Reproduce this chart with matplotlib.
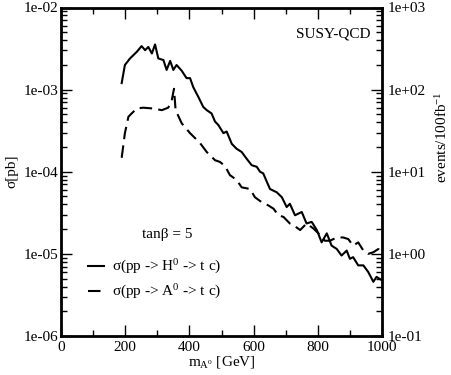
import numpy as np
import matplotlib
matplotlib.use('Agg')
from matplotlib import pyplot as plt, rcParams
from matplotlib.ticker import MultipleLocator, LogLocator, FixedLocator

rcParams['font.family'] = ['Liberation Serif', 'DejaVu Serif']
rcParams['mathtext.fontset'] = 'custom'
rcParams['mathtext.rm'] = 'Liberation Serif'
rcParams['mathtext.it'] = 'Liberation Serif'

# sigma(pp -> H0 -> t c), log10 values
mH = [189, 199, 215, 236, 251, 262, 272, 283, 293, 303, 319, 329, 340, 350, 360, 376,
      391, 402, 412, 428, 443, 454, 469, 480, 490, 506, 516, 532, 547, 563, 578, 594,
      610, 620, 630, 641, 651, 672, 688, 703, 713, 729, 750, 765, 781, 797, 812, 828,
      843, 859, 874, 890, 900, 910, 926, 942, 957, 973, 983, 999]
logH = [-2.92, -2.70, -2.62, -2.54, -2.47, -2.52, -2.48, -2.56, -2.45, -2.62, -2.64, -2.76,
        -2.65, -2.76, -2.70, -2.77, -2.86, -2.86, -2.97, -3.09, -3.21, -3.25, -3.29, -3.39,
        -3.43, -3.53, -3.51, -3.66, -3.72, -3.76, -3.84, -3.92, -3.94, -4.00, -4.02, -4.12,
        -4.21, -4.25, -4.31, -4.43, -4.39, -4.53, -4.49, -4.63, -4.61, -4.71, -4.86, -4.75,
        -4.90, -4.94, -5.02, -4.96, -5.06, -5.04, -5.14, -5.14, -5.22, -5.34, -5.28, -5.32]

# sigma(pp -> A0 -> t c)
mA = [189, 199, 210, 220, 236, 256, 288, 314, 334, 345, 352, 357, 376, 402, 433, 454,
      480, 495, 511, 526, 547, 563, 589, 604, 625, 646, 662, 677, 693, 713, 724, 745,
      765, 786, 802, 822, 838, 859, 879, 895, 910, 926, 942, 957, 973, 989, 996]
logA = [-3.83, -3.53, -3.33, -3.29, -3.23, -3.22, -3.23, -3.25, -3.22, -3.13, -2.99, -3.25,
        -3.41, -3.53, -3.65, -3.76, -3.86, -3.88, -3.93, -4.04, -4.10, -4.19, -4.21, -4.31,
        -4.37, -4.41, -4.45, -4.53, -4.55, -4.63, -4.65, -4.71, -4.63, -4.69, -4.75, -4.84,
        -4.84, -4.80, -4.80, -4.82, -4.90, -4.86, -4.96, -5.00, -4.98, -4.94, -4.88]

fs = 11

fig = plt.figure(figsize=(4.51, 3.75), dpi=100)
ax = fig.add_axes([0.1353, 0.104, 0.7117, 0.876])

ax.plot(mH, 10 ** np.array(logH), color='black', lw=1.5, label=r'σ(pp -> H$^0$ -> t c)')
ax.plot(mA, 10 ** np.array(logA), color='black', lw=1.5, dashes=(6, 3),
        label=r'σ(pp -> A$^0$ -> t c)')

ax.set_yscale('log')
ax.set_xlim(0, 1000)
ax.set_ylim(1e-6, 1e-2)
ax.xaxis.set_major_locator(MultipleLocator(200))
ax.xaxis.set_minor_locator(MultipleLocator(100))
ax.yaxis.set_major_locator(FixedLocator([1e-6, 1e-5, 1e-4, 1e-3, 1e-2]))
ax.yaxis.set_minor_locator(LogLocator(base=10, subs=np.arange(2, 10)))
ax.yaxis.set_minor_formatter(plt.NullFormatter())
ax.set_yticklabels(['1e-06', '1e-05', '1e-04', '1e-03', '1e-02'])
ax.tick_params(which='both', direction='in', top=True, labelsize=fs)
ax.tick_params(which='major', length=8, width=1)
ax.tick_params(which='minor', length=4, width=1)
ax.tick_params(axis='y', which='both', right=False, pad=2)
for s in ax.spines.values():
    s.set_linewidth(2)

ax.set_ylabel('σ[pb]', fontsize=fs, labelpad=4)
ax.set_xlabel(r'm$_{\mathregular{A^0}}$ [GeV]', fontsize=fs, labelpad=0)

ax2 = ax.twinx()
ax2.set_yscale('log')
ax2.set_ylim(1e-1, 1e3)
ax2.yaxis.set_major_locator(FixedLocator([1e-1, 1e0, 1e1, 1e2, 1e3]))
ax2.yaxis.set_minor_locator(LogLocator(base=10, subs=np.arange(2, 10)))
ax2.yaxis.set_minor_formatter(plt.NullFormatter())
ax2.set_yticklabels(['1e-01', '1e+00', '1e+01', '1e+02', '1e+03'])
ax2.tick_params(which='both', direction='in', labelsize=fs, pad=4)
ax2.tick_params(which='major', length=8, width=1)
ax2.tick_params(which='minor', length=4, width=1)

# right-hand label sits a bit above the middle, as in the original
fig.text(442 / 451, 1 - 137 / 375, r'events/100fb$^{-1}$', rotation=90,
         ha='center', va='center', fontsize=fs)

ax.text(0.965, 0.92, 'SUSY-QCD', transform=ax.transAxes, ha='right', va='center', fontsize=fs)
ax.text(0.33, 0.308, 'tanβ = 5', transform=ax.transAxes, ha='center', va='center', fontsize=fs)
ax.legend(loc='upper left', bbox_to_anchor=(0.084, 0.238), frameon=False, fontsize=fs,
          handlelength=1.05, handletextpad=0.5, labelspacing=0.45, borderpad=0,
          borderaxespad=0)

fig.savefig('out.png', dpi=100)
